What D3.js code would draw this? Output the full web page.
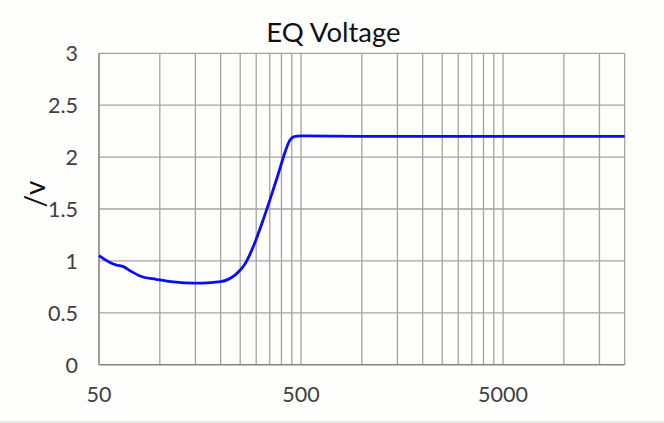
<!DOCTYPE html>
<html>
<head>
<meta charset="utf-8">
<script src="https://cdn.jsdelivr.net/npm/d3@7"></script>
<style>
  body { margin: 0; background: #fefefd; }
  svg { display: block; }
  text { font-family: Lato, "Open Sans", sans-serif; fill: #404040; }
</style>
</head>
<body>
<script>

var width = 664;
var height = 423;

var margin = {top: 53.3, bottom: 58.3, left: 99, right: 39.3};

// frequency (Hz) and EQ voltage (V)
var freqs = [50, 56, 61, 66, 72, 81, 96, 117, 146, 184, 200, 218, 238, 264, 292, 320, 351, 386, 417, 441, 467, 500, 1000, 2000, 5000, 10000, 20000];
var volts = [1.05, 0.99, 0.96, 0.945, 0.9, 0.85, 0.823, 0.797, 0.785, 0.794, 0.80, 0.822, 0.87, 0.97, 1.15, 1.36, 1.59, 1.84, 2.05, 2.165, 2.2, 2.205, 2.2, 2.2, 2.2, 2.2, 2.2];

var xTicks = [50, 500, 5000];
var yTicks = [0, 0.5, 1, 1.5, 2, 2.5, 3];
var xGrid = [100, 150, 200, 250, 300, 350, 400, 450, 500,
             1000, 1500, 2000, 2500, 3000, 3500, 4000, 4500, 5000,
             10000, 15000, 20000];

var svg = d3.select("body").append("svg")
    .attr("width", width)
    .attr("height", height);

var xScale = d3.scaleLog()
    .domain([50, 20000])
    .range([margin.left, width - margin.right]);

var yScale = d3.scaleLinear()
    .domain([0, 3])
    .range([height - margin.bottom, margin.top]);

// grid
svg.append("g")
    .selectAll("line")
    .data(xGrid)
    .enter()
    .append("line")
        .attr("x1", function(d){ return xScale(d); })
        .attr("x2", function(d){ return xScale(d); })
        .attr("y1", yScale(0))
        .attr("y2", yScale(3))
        .attr("stroke", "#a3a3a3")
        .attr("stroke-width", 1.3);

svg.append("g")
    .selectAll("line")
    .data(yTicks.slice(1))
    .enter()
    .append("line")
        .attr("x1", xScale(50))
        .attr("x2", xScale(20000))
        .attr("y1", function(d){ return yScale(d); })
        .attr("y2", function(d){ return yScale(d); })
        .attr("stroke", "#a3a3a3")
        .attr("stroke-width", 1.3);

// axes lines
svg.append("line")
    .attr("x1", xScale(50)).attr("x2", xScale(50))
    .attr("y1", yScale(0)).attr("y2", yScale(3))
    .attr("stroke", "#858585").attr("stroke-width", 1.6);
svg.append("line")
    .attr("x1", xScale(50)).attr("x2", xScale(20000))
    .attr("y1", yScale(0)).attr("y2", yScale(0))
    .attr("stroke", "#858585").attr("stroke-width", 1.6);

// tick labels
svg.append("g")
    .selectAll("text")
    .data(yTicks)
    .enter()
    .append("text")
        .attr("x", 78)
        .attr("y", function(d){ return yScale(d) + 8; })
        .attr("text-anchor", "end")
        .attr("font-size", 21.5)
        .text(function(d){ return d; });

svg.append("g")
    .selectAll("text")
    .data(xTicks)
    .enter()
    .append("text")
        .attr("x", function(d){ return xScale(d); })
        .attr("y", 402)
        .attr("text-anchor", "middle")
        .attr("font-size", 21.5)
        .text(function(d){ return d; });

// curve
var line = d3.line()
    .x(function(d, i){ return xScale(freqs[i]); })
    .y(function(d){ return yScale(d); })
    .curve(d3.curveMonotoneX);

svg.append("path")
    .datum(volts)
    .attr("d", line)
    .attr("fill", "none")
    .attr("stroke", "#0a0aff")
    .attr("stroke-width", 2.8);

// title and axis label
svg.append("text")
    .attr("x", 333.5)
    .attr("y", 42)
    .attr("text-anchor", "middle")
    .attr("font-size", 27.5)
    .style("fill", "#111")
    .text("EQ Voltage");

svg.append("text")
    .attr("transform", "translate(45,194) rotate(-90)")
    .attr("text-anchor", "middle")
    .attr("font-size", 28)
    .style("fill", "#111")
    .text("/v");

// bottom edge of the screenshot
svg.append("rect")
    .attr("x", 0).attr("y", 421)
    .attr("width", width).attr("height", 2)
    .attr("fill", "#e6e6e6");

</script>
</body>
</html>
